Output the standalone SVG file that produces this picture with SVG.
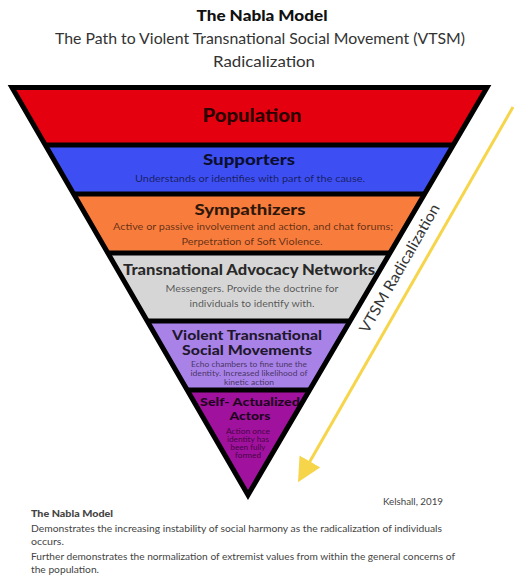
<svg xmlns="http://www.w3.org/2000/svg" width="516" height="579" viewBox="0 0 516 579">
  <style>
    text { font-family: Lato, "Liberation Sans", "DejaVu Sans", sans-serif; text-anchor: middle; }
    .title { font-size: 15px; font-weight: 900; fill: #111; }
    .sub { font-size: 15px; fill: #333; }
    .head { font-weight: 900; fill: #000; fill-opacity: 0.82; }
    .desc { fill: #000; fill-opacity: 0.62; }
    .edge { fill: none; stroke: #000; stroke-width: 5; stroke-linejoin: miter; }
    .sep { stroke: #000; stroke-width: 5; }
    .note { font-size: 9.5px; fill: #444; text-anchor: start; }
  </style>
  <defs>
    <marker id="arrowHead" markerWidth="8" markerHeight="8" refX="6" refY="4" orient="auto" markerUnits="strokeWidth">
      <path d="M0,0 L8,4 L0,8 Z" fill="#f6d54a"/>
    </marker>
  </defs>
  <rect width="516" height="579" fill="#fff"/>

  <!-- heading -->
  <g id="heading">
    <text class="title" x="262" y="21" textLength="131" lengthAdjust="spacingAndGlyphs">The Nabla Model</text>
    <text class="sub" x="260" y="44" textLength="410" lengthAdjust="spacingAndGlyphs">The Path to Violent Transnational Social Movement (VTSM)</text>
    <text class="sub" x="264" y="67" textLength="102" lengthAdjust="spacingAndGlyphs">Radicalization</text>
  </g>

  <!-- tiers of the inverted triangle -->
  <g id="population">
    <polygon points="12,87.5 487,87.5 453.3,145 45.3,145" fill="#e5000f"/>
    <text class="head" x="252" y="122" font-size="19" textLength="99" lengthAdjust="spacingAndGlyphs">Population</text>
  </g>
  <g id="supporters">
    <polygon points="45.3,145 453.3,145 424.5,194 73.7,194" fill="#3d4ff2"/>
    <text class="head" x="249" y="165" font-size="15" textLength="92" lengthAdjust="spacingAndGlyphs">Supporters</text>
    <text class="desc" x="250" y="182" font-size="9.5" textLength="230" lengthAdjust="spacingAndGlyphs">Understands or identifies with part of the cause.</text>
  </g>
  <g id="sympathizers">
    <polygon points="73.7,194 424.5,194 389.9,253 107.8,253" fill="#f87c3c"/>
    <text class="head" x="250" y="215" font-size="15" textLength="111" lengthAdjust="spacingAndGlyphs">Sympathizers</text>
    <text class="desc" x="253" y="230" font-size="9.5" textLength="280" lengthAdjust="spacingAndGlyphs">Active or passive involvement and action, and chat forums;</text>
    <text class="desc" x="252" y="245" font-size="9.5" textLength="141" lengthAdjust="spacingAndGlyphs">Perpetration of Soft Violence.</text>
  </g>
  <g id="advocacy-networks">
    <polygon points="107.8,253 389.9,253 350.1,321 147.2,321" fill="#d6d6d6"/>
    <text class="head" x="249" y="275" font-size="15" textLength="252" lengthAdjust="spacingAndGlyphs">Transnational Advocacy Networks</text>
    <text class="desc" x="252" y="292" font-size="9.5" textLength="173" lengthAdjust="spacingAndGlyphs">Messengers. Provide the doctrine for</text>
    <text class="desc" x="252" y="307" font-size="9.5" textLength="125" lengthAdjust="spacingAndGlyphs">individuals to identify with.</text>
  </g>
  <g id="violent-movements">
    <polygon points="147.2,321 350.1,321 309.6,390 187.2,390" fill="#a982e8"/>
    <text class="head" x="247" y="340" font-size="13" textLength="150" lengthAdjust="spacingAndGlyphs">Violent Transnational</text>
    <text class="head" x="247" y="355" font-size="13" textLength="130" lengthAdjust="spacingAndGlyphs">Social Movements</text>
    <text class="desc" x="249" y="367" font-size="7.2" textLength="116" lengthAdjust="spacingAndGlyphs">Echo chambers to fine tune the</text>
    <text class="desc" x="249" y="376" font-size="7.2" textLength="117" lengthAdjust="spacingAndGlyphs">identity. Increased likelihood of</text>
    <text class="desc" x="249" y="385" font-size="7.2" textLength="50" lengthAdjust="spacingAndGlyphs">kinetic action</text>
  </g>
  <g id="self-actualized">
    <polygon points="187.2,390 309.6,390 248,495" fill="#a0119e"/>
    <text class="head" x="250" y="405.5" font-size="11.5" textLength="100" lengthAdjust="spacingAndGlyphs">Self- Actualized</text>
    <text class="head" x="250" y="419.5" font-size="11.5" textLength="41" lengthAdjust="spacingAndGlyphs">Actors</text>
    <text class="desc" x="248" y="434" font-size="7" textLength="44" lengthAdjust="spacingAndGlyphs">Action once</text>
    <text class="desc" x="248" y="442" font-size="7" textLength="42" lengthAdjust="spacingAndGlyphs">identity has</text>
    <text class="desc" x="248" y="450" font-size="7" textLength="35" lengthAdjust="spacingAndGlyphs">been fully</text>
    <text class="desc" x="248" y="458" font-size="7" textLength="26" lengthAdjust="spacingAndGlyphs">formed</text>
  </g>

  <!-- tier separators and outline -->
  <g id="outline">
    <line class="sep" x1="45.3" y1="145" x2="453.3" y2="145"/>
    <line class="sep" x1="73.7" y1="194" x2="424.5" y2="194"/>
    <line class="sep" x1="107.8" y1="253" x2="389.9" y2="253"/>
    <line class="sep" x1="147.2" y1="321" x2="350.1" y2="321"/>
    <line class="sep" x1="187.2" y1="390" x2="309.6" y2="390"/>
    <polygon class="edge" points="12,87.5 487,87.5 248,495"/>
  </g>

  <!-- radicalization direction -->
  <g id="connectors">
    <line x1="513" y1="107" x2="301" y2="477" stroke="#f6d54a" stroke-width="3" marker-end="url(#arrowHead)"/>
    <text x="404" y="271" font-size="15" fill="#333" transform="rotate(-60.2 404 271)" textLength="146" lengthAdjust="spacingAndGlyphs">VTSM  Radicalization</text>
  </g>

  <!-- caption -->
  <g id="caption">
    <text class="note" x="383" y="505" textLength="60" lengthAdjust="spacingAndGlyphs">Kelshall, 2019</text>
    <text class="note" x="31" y="517" font-weight="900" fill="#111" textLength="82" lengthAdjust="spacingAndGlyphs">The Nabla Model</text>
    <text class="note" x="31" y="532" textLength="411" lengthAdjust="spacingAndGlyphs">Demonstrates the increasing instability of social harmony as the radicalization of individuals</text>
    <text class="note" x="31" y="545" textLength="33" lengthAdjust="spacingAndGlyphs">occurs.</text>
    <text class="note" x="31" y="560" textLength="424" lengthAdjust="spacingAndGlyphs">Further demonstrates the normalization of extremist values from within the general concerns of</text>
    <text class="note" x="31" y="573" textLength="68" lengthAdjust="spacingAndGlyphs">the population.</text>
  </g>
</svg>
